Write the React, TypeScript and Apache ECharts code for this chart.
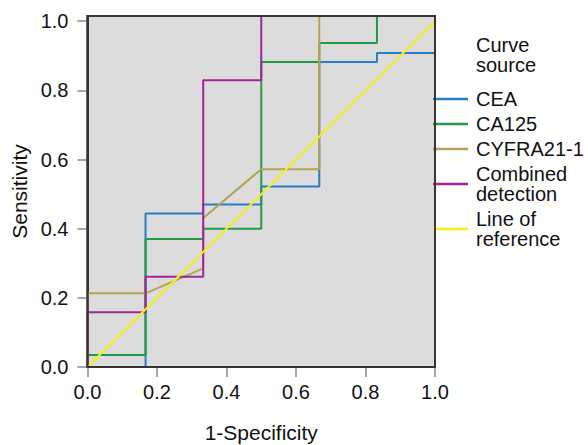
import React, { useEffect, useRef } from "react";
import * as echarts from "echarts";

// 1-Specificity / Sensitivity coordinates
const cea: [number, number][] = [
  [0, 0], [0.167, 0], [0.167, 0.444], [0.333, 0.444], [0.333, 0.47], [0.5, 0.47],
  [0.5, 0.522], [0.667, 0.522], [0.667, 0.882], [0.833, 0.882], [0.833, 0.908], [1, 0.908],
];
const ca125: [number, number][] = [
  [0, 0], [0, 0.035], [0.167, 0.035], [0.167, 0.37], [0.333, 0.37], [0.333, 0.4],
  [0.5, 0.4], [0.5, 0.882], [0.667, 0.882], [0.667, 0.937], [0.833, 0.937], [0.833, 1.015], [1, 1.015],
];
const cyfra: [number, number][] = [
  [0, 0], [0, 0.213], [0.167, 0.213], [0.333, 0.285], [0.333, 0.431], [0.5, 0.572],
  [0.667, 0.572], [0.667, 1.015], [1, 1.015],
];
const combined: [number, number][] = [
  [0, 0], [0, 0.158], [0.167, 0.158], [0.167, 0.261], [0.333, 0.261], [0.333, 0.829],
  [0.5, 0.829], [0.5, 1.015], [1, 1.015],
];
const reference: [number, number][] = [[0, 0], [1, 1]];

const seriesNames = ["CEA", "CA125", "CYFRA21-1", "Combined detection", "Line of reference"];
const legendLabels: Record<string, string> = {
  "Combined detection": "Combined\ndetection",
  "Line of reference": "Line of\nreference",
};
const seriesColors = ["#2a7cc4", "#23994a", "#b3a454", "#a3239c", "#f4ef1a"];
const tickValues = [0, 0.2, 0.4, 0.6, 0.8, 1.0];

const FONT = "Liberation Sans, Arial, Helvetica, sans-serif";
const GRID = { left: 87.5, right: 153, top: 16, bottom: 78 };
const W = 588;
const H = 445;

export default function App() {
  const ref = useRef<HTMLDivElement>(null);
  useEffect(() => {
    document.body.style.margin = "0";
    if (!ref.current) return;
    const chart = echarts.init(ref.current, undefined, { renderer: "svg" });
    const datasets = [cea, ca125, cyfra, combined, reference];
    chart.setOption({
      animation: false,
      textStyle: { fontFamily: FONT },
      title: {
        text: "Curve\nsource",
        left: 476,
        top: 35,
        padding: 0,
        textStyle: { fontSize: 20, lineHeight: 20, fontWeight: "normal", color: "#111", fontFamily: FONT },
      },
      legend: {
        orient: "vertical",
        left: 433,
        top: 89,
        padding: 0,
        itemGap: 5,
        itemWidth: 35,
        itemHeight: 2.5,
        icon: "rect",
        data: seriesNames,
        formatter: (name: string) => legendLabels[name] || name,
        textStyle: { fontSize: 20, lineHeight: 20, color: "#111", fontFamily: FONT, padding: [0, 0, 0, 3] },
      },
      grid: {
        ...GRID,
        outerBoundsMode: "none",
        containLabel: false,
        show: true,
        backgroundColor: "#dcdcdc",
        borderColor: "#3b3333",
        borderWidth: 2,
      },
      graphic: [
        {
          type: "rect",
          z: 100,
          silent: true,
          shape: {
            x: GRID.left,
            y: GRID.top,
            width: W - GRID.left - GRID.right,
            height: H - GRID.top - GRID.bottom,
          },
          style: { fill: "none", stroke: "#3b3333", lineWidth: 2 },
        },
      ],
      xAxis: {
        type: "value",
        min: 0,
        max: 1,
        interval: 0.2,
        name: "1-Specificity",
        nameLocation: "middle",
        nameGap: 55,
        nameTextStyle: { fontSize: 21, color: "#111", fontFamily: FONT },
        axisLine: { lineStyle: { color: "#3b3333", width: 2 } },
        axisTick: { show: true, length: 10, lineStyle: { color: "#888", width: 1.5 } },
        axisLabel: { fontSize: 20, color: "#111", margin: 15, formatter: (v: number) => v.toFixed(1) },
        splitLine: { show: false },
      },
      yAxis: {
        type: "value",
        min: 0,
        max: 1.015,
        interval: 0.2,
        name: "Sensitivity",
        nameLocation: "middle",
        nameGap: 58,
        nameTextStyle: { fontSize: 21, color: "#111", fontFamily: FONT },
        axisLine: { lineStyle: { color: "#3b3333", width: 2 } },
        axisTick: { show: true, length: 10, customValues: tickValues, lineStyle: { color: "#888", width: 1.5 } },
        axisLabel: {
          fontSize: 20,
          color: "#111",
          margin: 19,
          customValues: tickValues,
          formatter: (v: number) => v.toFixed(1),
        },
        splitLine: { show: false },
      },
      series: seriesNames.map((name, i) => ({
        name,
        type: "line",
        data: datasets[i],
        showSymbol: false,
        symbol: "none",
        clip: true,
        color: seriesColors[i],
        lineStyle: { color: seriesColors[i], width: 2 },
      })),
    });
    return () => chart.dispose();
  }, []);
  return <div ref={ref} style={{ width: W, height: H }} />;
}
